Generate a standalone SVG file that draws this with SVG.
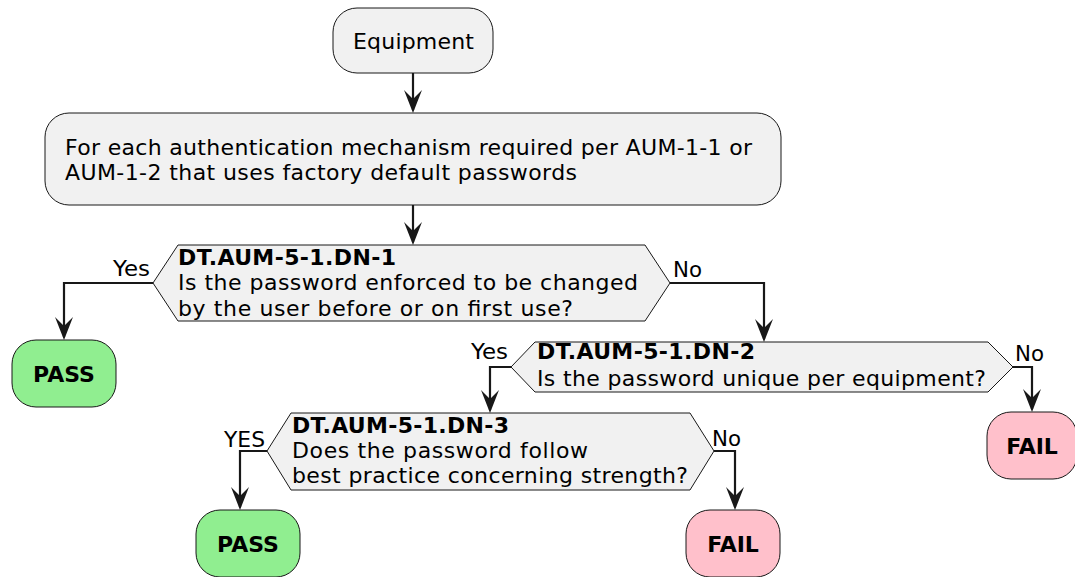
<svg xmlns="http://www.w3.org/2000/svg" width="1075" height="577" viewBox="0 0 1075 577">
<defs>
<style>
.box{fill:#F1F1F1;stroke:#181818;stroke-width:1}
.pass{fill:#90EE90;stroke:#181818;stroke-width:1}
.fail{fill:#FFC0CB;stroke:#181818;stroke-width:1}
.t{font-family:"DejaVu Sans",sans-serif;font-size:22px;fill:#000}
.b{font-family:"DejaVu Sans",sans-serif;font-size:22px;font-weight:bold;fill:#000}
.l{font-family:"DejaVu Sans",sans-serif;font-size:21px;fill:#000}
.c{fill:none;stroke:#181818;stroke-width:2.2}
.h{fill:#181818}
</style>
</defs>
<g id="connectors">
<path class="c" d="M413,73 V110"/>
<path class="c" d="M413,205 V242"/>
<path class="c" d="M153,283 H64 V337"/>
<path class="c" d="M670,283 H764 V339"/>
<path class="c" d="M511,367 H490 V410"/>
<path class="c" d="M1013,367 H1032 V409"/>
<path class="c" d="M267,451 H240 V507"/>
<path class="c" d="M714,451 H735 V507"/>
<path class="h" d="M404,90 L413,113 L422,90 L413,99 Z"/>
<path class="h" d="M404,222 L413,245 L422,222 L413,231 Z"/>
<path class="h" d="M55,317 L64,340 L73,317 L64,326 Z"/>
<path class="h" d="M755,319 L764,342 L773,319 L764,328 Z"/>
<path class="h" d="M481,390 L490,413 L499,390 L490,399 Z"/>
<path class="h" d="M1023,389 L1032,412 L1041,389 L1032,398 Z"/>
<path class="h" d="M231,487 L240,510 L249,487 L240,496 Z"/>
<path class="h" d="M726,487 L735,510 L744,487 L735,496 Z"/>
<text class="l" x="113" y="276" textLength="37" lengthAdjust="spacingAndGlyphs">Yes</text>
<text class="l" x="673" y="277" textLength="29" lengthAdjust="spacingAndGlyphs">No</text>
<text class="l" x="471" y="359" textLength="37" lengthAdjust="spacingAndGlyphs">Yes</text>
<text class="l" x="1015" y="361" textLength="29" lengthAdjust="spacingAndGlyphs">No</text>
<text class="l" x="224" y="447" textLength="41" lengthAdjust="spacingAndGlyphs">YES</text>
<text class="l" x="712" y="446" textLength="29" lengthAdjust="spacingAndGlyphs">No</text>
</g>
<g id="equipment">
<rect class="box" x="333" y="8" width="160" height="65" rx="24"/>
<text class="t" x="353" y="49" textLength="121" lengthAdjust="spacing">Equipment</text>
</g>
<g id="foreach">
<rect class="box" x="45" y="113" width="736" height="92" rx="24"/>
<text class="t" x="65" y="155" textLength="687" lengthAdjust="spacing">For each authentication mechanism required per AUM-1-1 or</text>
<text class="t" x="65" y="180" textLength="512" lengthAdjust="spacing">AUM-1-2 that uses factory default passwords</text>
</g>
<g id="dn1">
<polygon class="box" points="153,283 178,245 645,245 670,283 645,321 178,321"/>
<text class="b" x="178" y="265" textLength="218" lengthAdjust="spacing">DT.AUM-5-1.DN-1</text>
<text class="t" x="178" y="290" textLength="460" lengthAdjust="spacing">Is the password enforced to be changed</text>
<text class="t" x="178" y="316" textLength="395" lengthAdjust="spacing">by the user before or on first use?</text>
</g>
<g id="pass1">
<rect class="pass" x="12" y="340" width="104" height="67" rx="24"/>
<text class="b" x="64" y="382" text-anchor="middle">PASS</text>
</g>
<g id="dn2">
<polygon class="box" points="511,367 535,342 988,342 1013,367 988,392 535,392"/>
<text class="b" x="537" y="359" textLength="218" lengthAdjust="spacing">DT.AUM-5-1.DN-2</text>
<text class="t" x="537" y="386" textLength="449" lengthAdjust="spacing">Is the password unique per equipment?</text>
</g>
<g id="fail1">
<rect class="fail" x="987" y="412" width="90" height="67" rx="24"/>
<text class="b" x="1032" y="454" text-anchor="middle">FAIL</text>
</g>
<g id="dn3">
<polygon class="box" points="267,451 291,413 690,413 714,451 690,490 291,490"/>
<text class="b" x="292" y="433" textLength="217" lengthAdjust="spacing">DT.AUM-5-1.DN-3</text>
<text class="t" x="292" y="458" textLength="296" lengthAdjust="spacing">Does the password follow</text>
<text class="t" x="292" y="483" textLength="396" lengthAdjust="spacing">best practice concerning strength?</text>
</g>
<g id="pass2">
<rect class="pass" x="196" y="510" width="104" height="67" rx="24"/>
<text class="b" x="248" y="552" text-anchor="middle">PASS</text>
</g>
<g id="fail2">
<rect class="fail" x="686" y="510" width="94" height="67" rx="24"/>
<text class="b" x="733" y="552" text-anchor="middle">FAIL</text>
</g>
</svg>
